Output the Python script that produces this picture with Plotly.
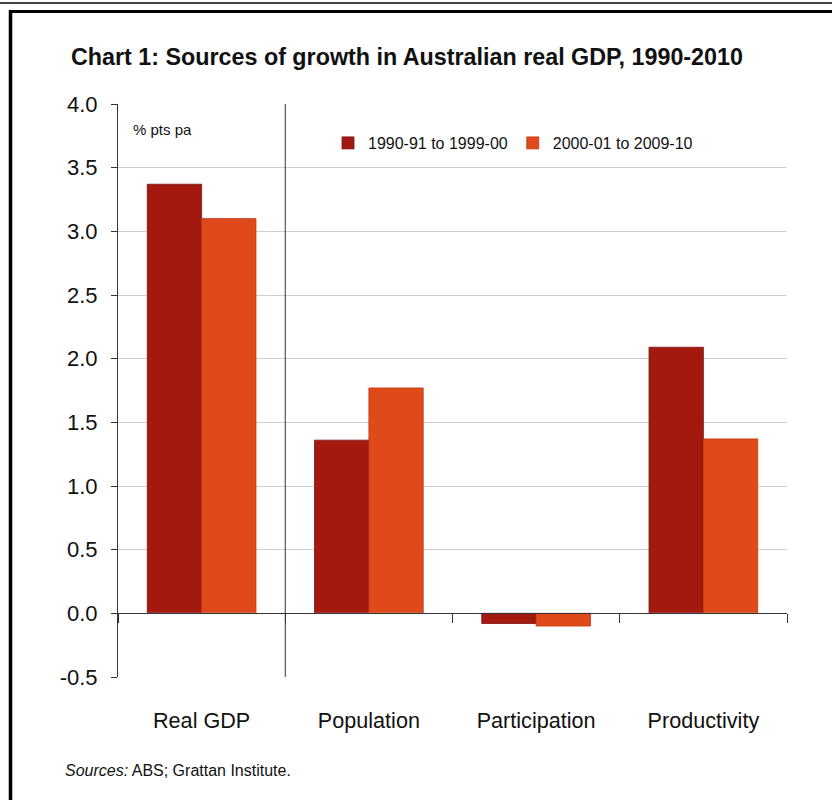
import plotly.graph_objects as go

categories = ["Real GDP", "Population", "Participation", "Productivity"]
series1_name = "1990-91 to 1999-00"
series2_name = "2000-01 to 2009-10"
series1 = [3.37, 1.36, -0.08, 2.09]
series2 = [3.10, 1.77, -0.10, 1.37]
y_ticks = [-0.5, 0.0, 0.5, 1.0, 1.5, 2.0, 2.5, 3.0, 3.5, 4.0]
y_tick_labels = ["-0.5", "0.0", "0.5", "1.0", "1.5", "2.0", "2.5", "3.0", "3.5", "4.0"]

W, H = 832, 800
L, R, T, B = 118, 45, 104, 123
PW, PH = W - L - R, H - T - B

def px(x):
    return (x - L) / PW

def py(y):
    return (H - B - y) / PH

DARK = "#A3190F"
ORANGE = "#E04A1B"
FONT = "Liberation Sans Narrow, Arial Narrow, Liberation Sans, Arial, sans-serif"

fig = go.Figure()
fig.add_trace(go.Bar(x=categories, y=series1, name=series1_name,
                     marker=dict(color=DARK, line=dict(color="#7a120a", width=0.8))))
fig.add_trace(go.Bar(x=categories, y=series2, name=series2_name,
                     marker=dict(color=ORANGE, line=dict(color="#c03a12", width=0.8))))
# invisible trace on xaxis2 carrying the category labels at the bottom
fig.add_trace(go.Bar(x=categories, y=[0] * len(categories), xaxis="x2", showlegend=False,
                     hoverinfo="skip", marker=dict(color="rgba(0,0,0,0)")))

fig.update_layout(
    width=W, height=H,
    margin=dict(l=L, r=R, t=T, b=B),
    paper_bgcolor="white", plot_bgcolor="white",
    barmode="group", bargap=0.35, bargroupgap=0,
    font=dict(family=FONT, color="#111111"),
    showlegend=True,
    legend=dict(orientation="h", x=px(328), y=py(143), xanchor="left", yanchor="middle",
                font=dict(size=16, family=FONT), bgcolor="rgba(0,0,0,0)",
                itemwidth=30, traceorder="normal"),
    yaxis=dict(range=[-0.5, 4.0], tickvals=y_ticks, ticktext=y_tick_labels,
               showline=True, linecolor="#333333", linewidth=1,
               ticks="outside", ticklen=6, tickcolor="#333333", ticklabelstandoff=9,
               showgrid=True, gridcolor="#cfcfcf", gridwidth=1,
               zeroline=False, tickfont=dict(size=22, family=FONT, color="#111111")),
    xaxis=dict(anchor="free", position=py(613), showline=True, linecolor="#333333",
               linewidth=1.2, ticks="outside", tickson="boundaries", ticklen=9,
               tickcolor="#333333", showticklabels=False, showgrid=False,
               range=[-0.5, 3.5]),
    xaxis2=dict(overlaying="x", matches="x", anchor="y", showline=False, ticks="",
                showgrid=False, showticklabels=True, ticklabelstandoff=28,
                tickfont=dict(size=21.6, family=FONT, color="#111111")),
)

# vertical separator between Real GDP and its components
fig.add_shape(type="line", xref="x", yref="y", x0=0.5, x1=0.5, y0=-0.5, y1=4.0,
              line=dict(color="#333333", width=1))

# frame
fig.add_shape(type="line", xref="paper", yref="paper", x0=px(0), x1=px(W), y0=py(3), y1=py(3),
              line=dict(color="#444444", width=2))
fig.add_shape(type="line", xref="paper", yref="paper", x0=px(9), x1=px(W), y0=py(11.5), y1=py(11.5),
              line=dict(color="black", width=3))
fig.add_shape(type="line", xref="paper", yref="paper", x0=px(10.5), x1=px(10.5), y0=py(10), y1=py(H),
              line=dict(color="black", width=3.5))

# title and notes
fig.add_annotation(text="<b>Chart 1: Sources of growth in Australian real GDP, 1990-2010</b>",
                   xref="paper", yref="paper", x=px(69), y=py(57), xanchor="left", yanchor="middle",
                   showarrow=False, font=dict(size=23.3, family=FONT, color="#111111"))
fig.add_annotation(text="% pts pa", xref="paper", yref="paper", x=px(131), y=py(129),
                   xanchor="left", yanchor="middle", showarrow=False,
                   font=dict(size=15, family=FONT, color="#111111"))
fig.add_annotation(text="<i>Sources:</i> ABS; Grattan Institute.", xref="paper", yref="paper",
                   x=px(63), y=py(770), xanchor="left", yanchor="middle", showarrow=False,
                   font=dict(size=16, family=FONT, color="#111111"))

fig.write_html("out.html")
